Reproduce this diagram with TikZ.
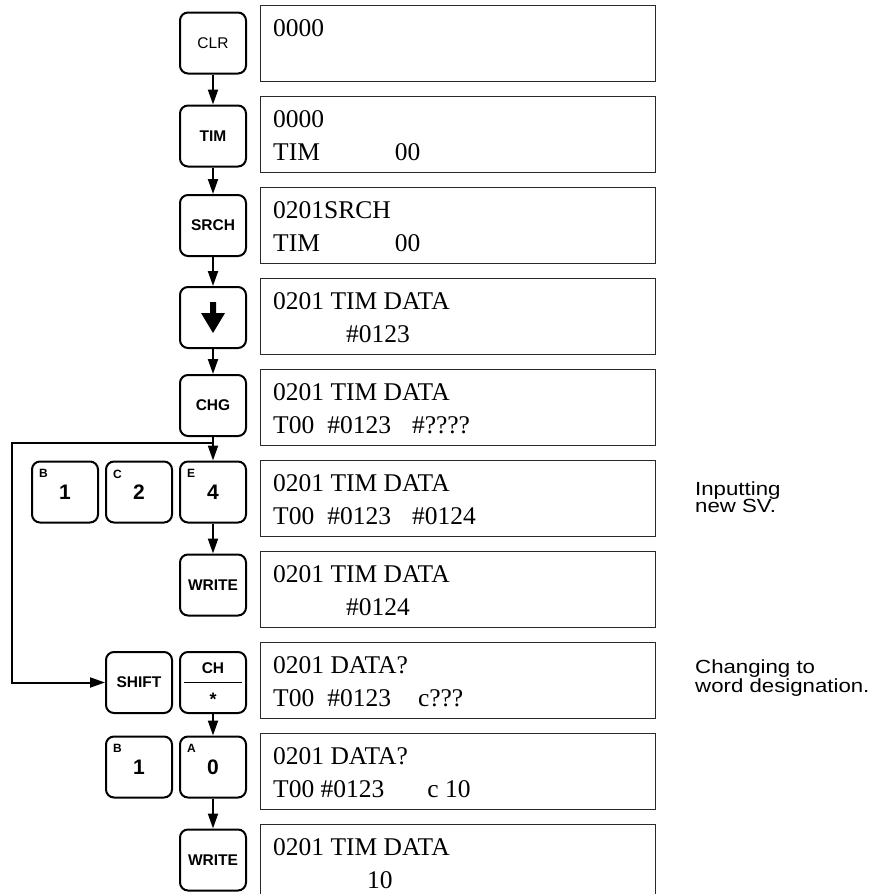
\documentclass[tikz,border=0pt]{standalone}
\usepackage{fontspec}
\setmainfont{Liberation Serif}
\setsansfont{Liberation Sans}
\newfontfamily\notefont[FakeStretch=1.17]{Liberation Sans}
\usetikzlibrary{arrows.meta,positioning,calc}
\definecolor{ink}{HTML}{2A2A2A}

\begin{document}
\begin{tikzpicture}[x=1pt,y=-1pt,>={Triangle[length=15pt,width=10pt]},every node/.style={inner sep=0pt},key/.style={draw,line width=2pt,rounded corners=8pt,minimum width=66pt,minimum height=61pt,font=\sffamily\bfseries\fontsize{15.5}{16}\selectfont},num/.style={key,font=\sffamily\bfseries\fontsize{21}{21}\selectfont},sup/.style={anchor=north west,xshift=8pt,yshift=-9pt,font=\sffamily\bfseries\fontsize{12}{12}\selectfont},screen/.style={draw=ink,line width=1.3pt,minimum width=395pt,minimum height=76pt,anchor=north west},lcd/.style={anchor=base west,font=\fontsize{25.5}{30}\selectfont},note/.style={anchor=north west,align=left,font=\notefont\fontsize{19}{17.5}\selectfont},flow/.style={->,line width=2pt}]
\clip (0,0) rectangle (872,894);

% display screens
\node[screen] (s1) at (260,5) {};
\node[lcd] (s1a) at ([shift={(13,31)}]s1.north west) {0000};
\node[screen] (s2) at (260,96) {};
\node[lcd] (s2a) at ([shift={(13,31)}]s2.north west) {0000};
\node[lcd] (s2b) at ([shift={(13,64)}]s2.north west) {TIM\hspace*{75pt}00};
\node[screen] (s3) at (260,187) {};
\node[lcd] (s3a) at ([shift={(13,31)}]s3.north west) {0201SRCH};
\node[lcd] (s3b) at ([shift={(13,64)}]s3.north west) {TIM\hspace*{75pt}00};
\node[screen] (s4) at (260,278) {};
\node[lcd] (s4a) at ([shift={(13,31)}]s4.north west) {0201 TIM DATA};
\node[lcd] (s4b) at ([shift={(13,64)}]s4.north west) {\hspace*{73pt}\#0123};
\node[screen] (s5) at (260,369) {};
\node[lcd] (s5a) at ([shift={(13,31)}]s5.north west) {0201 TIM DATA};
\node[lcd] (s5b) at ([shift={(13,64)}]s5.north west) {T00\hspace*{13pt}\#0123\hspace*{21pt}\#????};
\node[screen] (s6) at (260,460) {};
\node[lcd] (s6a) at ([shift={(13,31)}]s6.north west) {0201 TIM DATA};
\node[lcd] (s6b) at ([shift={(13,64)}]s6.north west) {T00\hspace*{13pt}\#0123\hspace*{21pt}\#0124};
\node[screen] (s7) at (260,551) {};
\node[lcd] (s7a) at ([shift={(13,31)}]s7.north west) {0201 TIM DATA};
\node[lcd] (s7b) at ([shift={(13,64)}]s7.north west) {\hspace*{73pt}\#0124};
\node[screen] (s8) at (260,642) {};
\node[lcd] (s8a) at ([shift={(13,31)}]s8.north west) {0201 DATA?};
\node[lcd] (s8b) at ([shift={(13,64)}]s8.north west) {T00\hspace*{13pt}\#0123\hspace*{27pt}c???};
\node[screen] (s9) at (260,733) {};
\node[lcd] (s9a) at ([shift={(13,31)}]s9.north west) {0201 DATA?};
\node[lcd] (s9b) at ([shift={(13,64)}]s9.north west) {T00 \#0123\hspace*{43pt}c 10};
\node[screen] (s10) at (260,824) {};
\node[lcd] (s10a) at ([shift={(13,31)}]s10.north west) {0201 TIM DATA};
\node[lcd] (s10b) at ([shift={(13,64)}]s10.north west) {\hspace*{94pt}10};

% keys
\node[key,font=\sffamily\fontsize{15.5}{16}\selectfont] (clr) at (213,43) {CLR};
\node[key] (tim) at (213,136) {TIM};
\node[key] (srch) at (213,225.5) {SRCH};
\node[key] (dn) at (213,317.5) {};
\fill ([shift={(-3,-15.5)}]dn.center) -- ++(6,0) -- ++(0,11) -- ++(9,0) -- ++(-12,20) -- ++(-12,-20) -- ++(9,0) -- cycle;
\node[key] (chg) at (213,405.5) {CHG};
\node[num,label={[sup]north west:B}] (b1) at (65,492) {1};
\node[num,label={[sup]north west:C}] (c2) at (139,492) {2};
\node[num,label={[sup]north west:E}] (e4) at (213,492) {4};
\node[key] (wr1) at (213,585) {WRITE};
\node[key] (shf) at (139,682.5) {SHIFT};
\node[key] (ch) at (213,682.5) {};
\node[font=\sffamily\bfseries\fontsize{15.5}{16}\selectfont] (chtop) at ([shift={(0,-14.5)}]ch.center) {CH};
\draw[line width=1.5pt] ([xshift=5pt]ch.west) -- ([xshift=-5pt]ch.east);
\node[font=\sffamily\bfseries\fontsize{18}{18}\selectfont] (chstar) at ([shift={(0,16.5)}]ch.center) {*};
\node[num,label={[sup]north west:B}] (b1b) at (139,767) {1};
\node[num,label={[sup]north west:A}] (a0) at (213,767) {0};
\node[key] (wr2) at (213,860) {WRITE};

% connectors
\draw[flow] (clr) -- (tim);
\draw[flow] (tim) -- (srch);
\draw[flow] (srch) -- (dn);
\draw[flow] (dn) -- (chg);
\draw[flow] (chg) -- (e4);
\draw[flow] (e4) -- (wr1);
\draw[flow] (ch) -- (a0);
\draw[flow] (a0) -- (wr2);
\coordinate (jn) at (213,443);
\coordinate (lp) at (12,443);
\draw[flow] (jn) -- (lp) |- (shf.west);

% notes
\node[note] (n1) at (695,481.5) {Inputting\\new SV.};
\node[note] (n2) at (695,659.5) {Changing to\\word designation.};

\end{tikzpicture}
\end{document}
